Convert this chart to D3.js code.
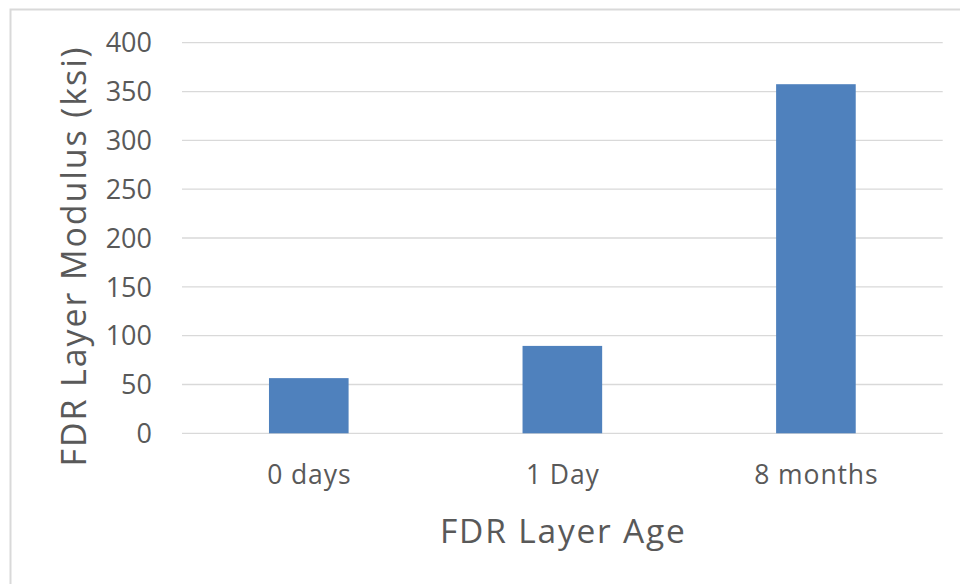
<!DOCTYPE html>
<html>
<head>
<meta charset="utf-8">
<script src="https://cdn.jsdelivr.net/npm/d3@7"></script>
<style>
  body { margin: 0; background: #fff; }
  svg { display: block; font-family: "Open Sans", sans-serif; }
</style>
</head>
<body>
<div id="chart"></div>
<script>
// chart values
const categories = ["0 days", "1 Day", "8 months"];
const modulus = [56.5, 89.5, 357.5];
const yTicks = [0, 50, 100, 150, 200, 250, 300, 350, 400];

const width = 960, height = 584;
const plot = { left: 182, right: 942.7, top: 42.7, bottom: 433.3 };

const svg = d3.select("#chart")
    .append("svg")
    .attr("width", width)
    .attr("height", height);

// outer chart border (cropped at right and bottom)
svg.append("rect")
    .attr("x", 10.5).attr("y", 9.5)
    .attr("width", 1000).attr("height", 700)
    .attr("fill", "none")
    .attr("stroke", "#d9d9d9")
    .attr("stroke-width", 2);

const x = d3.scaleBand()
    .domain(categories)
    .range([plot.left, plot.right])
    .paddingInner(0.686)
    .paddingOuter(0.343);

const y = d3.scaleLinear()
    .domain([0, 400])
    .range([plot.bottom, plot.top]);

// gridlines
svg.append("g")
    .selectAll("line")
    .data(yTicks)
    .enter()
    .append("line")
    .attr("x1", plot.left)
    .attr("x2", plot.right)
    .attr("y1", d => y(d))
    .attr("y2", d => y(d))
    .attr("stroke", "#d9d9d9")
    .attr("stroke-width", 1.3);

// y tick labels
svg.append("g")
    .selectAll("text")
    .data(yTicks)
    .enter()
    .append("text")
    .attr("x", 152)
    .attr("y", d => y(d))
    .attr("dy", "0.36em")
    .attr("text-anchor", "end")
    .attr("fill", "#595959")
    .attr("font-size", 27)
    .text(d => d);

// bars
svg.append("g")
    .selectAll("rect")
    .data(modulus)
    .enter()
    .append("rect")
    .attr("x", (d, i) => x(categories[i]))
    .attr("width", x.bandwidth())
    .attr("y", d => y(d))
    .attr("height", d => y(0) - y(d))
    .attr("fill", "#4f81bd");

// category labels
svg.append("g")
    .selectAll("text")
    .data(categories)
    .enter()
    .append("text")
    .attr("x", d => x(d) + x.bandwidth() / 2 + 0.5)
    .attr("y", 484)
    .attr("text-anchor", "middle")
    .attr("fill", "#595959")
    .attr("font-size", 26.5)
    .attr("letter-spacing", 0.9)
    .text(d => d);

// axis titles
svg.append("text")
    .attr("x", (plot.left + plot.right) / 2 + 1)
    .attr("y", 543)
    .attr("text-anchor", "middle")
    .attr("fill", "#595959")
    .attr("font-size", 33.5)
    .attr("letter-spacing", 1.8)
    .text("FDR Layer Age");

svg.append("text")
    .attr("transform", "translate(86,256) rotate(-90)")
    .attr("text-anchor", "middle")
    .attr("fill", "#595959")
    .attr("font-size", 34)
    .attr("letter-spacing", 1.9)
    .text("FDR Layer Modulus (ksi)");
</script>
</body>
</html>
